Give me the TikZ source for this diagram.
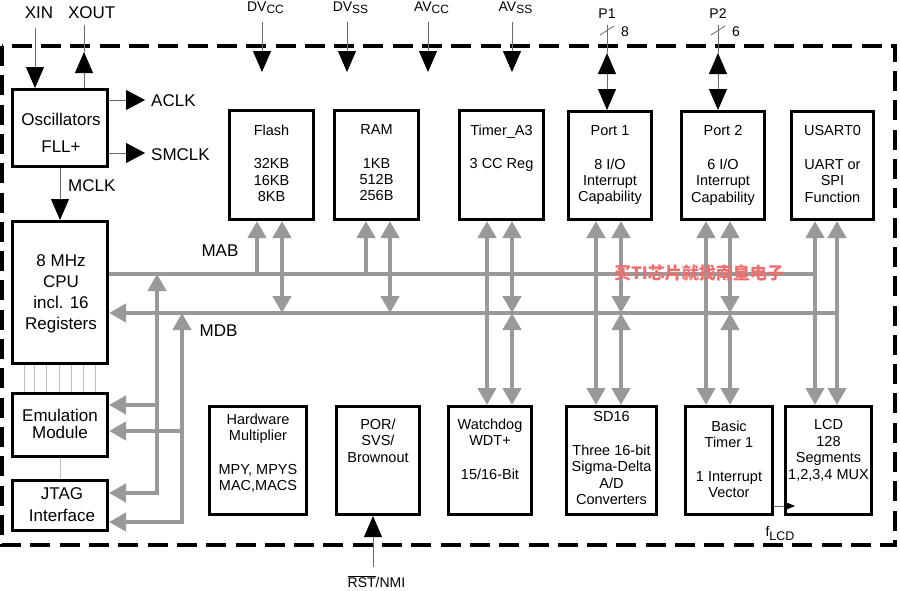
\documentclass[tikz,border=0pt]{standalone}
\usepackage{fontspec}
\setmainfont{Liberation Sans}
\newfontfamily\cjkfont{Noto Sans CJK SC}
\usetikzlibrary{arrows.meta}
\definecolor{busgray}{RGB}{153,153,153}
\definecolor{pingray}{RGB}{105,105,105}
\definecolor{linegray}{RGB}{190,190,190}
\definecolor{wmred}{RGB}{238,110,110}
\newcommand\mkbox[5]{\node[box,minimum width={#4-#2-3},minimum height={#5-#3-3}] (#1) at ({(#2+#4)/2},{(#3+#5)/2}) {};}
\begin{document}
\begin{tikzpicture}[x=1pt,y=-1pt,
  box/.style={draw=black,line width=3pt,inner sep=0pt,fill=white},
  mtxt/.style={inner sep=0pt,align=center,font=\fontsize{14.5}{16.4}\selectfont},
  btxt/.style={inner sep=0pt,align=center,font=\fontsize{17}{21}\selectfont},
  plab/.style={inner sep=0pt,font=\fontsize{17}{20}\selectfont},
  slab/.style={inner sep=0pt,font=\fontsize{14}{16}\selectfont},
  gbus/.style={draw=busgray,line width=4.5pt},
  pin/.style={draw=pingray,line width=0.8pt},
  cl/.style={draw=linegray,line width=0.8pt},
  border/.style={draw=black,line width=4pt,dash pattern=on 20pt off 9.3pt},
  GT/.tip={Triangle[width=18pt,length=17pt]},
  BT/.tip={Triangle[width=18pt,length=21pt,color=black]}]
\useasboundingbox (0,0) rectangle (900,590);
\draw[border] (2,46) rectangle (895,545);

% boxes
\mkbox{osc}{11}{88}{109}{168}
\mkbox{cpu}{11}{220}{109}{365}
\mkbox{emu}{11}{392}{109}{458}
\mkbox{jtag}{11}{479}{109}{532}
\mkbox{flash}{228}{109}{315}{221}
\mkbox{ram}{333}{109}{420}{221}
\mkbox{timer}{458}{109}{545}{221}
\mkbox{port1}{567}{110}{653}{221}
\mkbox{port2}{680}{110}{766}{221}
\mkbox{usart}{790}{110}{875}{221}
\mkbox{hwm}{208}{405}{308}{516}
\mkbox{por}{335}{405}{421}{516}
\mkbox{wdt}{447}{405}{533}{516}
\mkbox{sd}{565}{405}{658}{516}
\mkbox{bt}{684}{405}{774}{516}
\mkbox{lcd}{784}{405}{873}{516}

% box texts
\node[btxt,font=\fontsize{17}{27}\selectfont] (oscT) at (61,133) {Oscillators\\FLL+};
\node[btxt] (cpuT) at (61,293.5) {8 MHz\\CPU\\incl. 16\\Registers};
\node[btxt,font=\fontsize{17}{17.5}\selectfont] (emuT) at (60,424) {Emulation\\Module};
\node[btxt,font=\fontsize{17}{22}\selectfont] (jtagT) at (62,505) {JTAG\\Interface};
\node[mtxt,anchor=north] (flashT) at ([yshift=-15.5pt]flash.north) {Flash\\[17pt]32KB\\16KB\\8KB};
\node[mtxt,anchor=north] (ramT) at ([yshift=-15.5pt]ram.north) {RAM\\[17pt]1KB\\512B\\256B};
\node[mtxt,anchor=north] (timerT) at ([yshift=-15.5pt]timer.north) {Timer\_A3\\[17pt]3 CC Reg};
\node[mtxt,anchor=north] (port1T) at ([yshift=-15.5pt]port1.north) {Port 1\\[17pt]8 I/O\\Interrupt\\Capability};
\node[mtxt,anchor=north] (port2T) at ([yshift=-15.5pt]port2.north) {Port 2\\[17pt]6 I/O\\Interrupt\\Capability};
\node[mtxt,anchor=north] (usartT) at ([yshift=-15.5pt]usart.north) {USART0\\[17pt]UART or\\SPI\\Function};
\node[mtxt,anchor=north] (hwmT) at ([yshift=-8.5pt]hwm.north) {Hardware\\Multiplier\\[17pt]MPY, MPYS\\MAC,MACS};
\node[mtxt,anchor=north] (porT) at ([yshift=-13.5pt]por.north) {POR/\\SVS/\\Brownout};
\node[mtxt,anchor=north] (wdtT) at ([yshift=-13.5pt]wdt.north) {Watchdog\\WDT+\\[17pt]15/16-Bit};
\node[mtxt,anchor=north] (sdT) at ([yshift=-6.5pt]sd.north) {SD16\\[17pt]Three 16-bit\\Sigma-Delta\\A/D\\Converters};
\node[mtxt,anchor=north] (btT) at ([yshift=-15.5pt]bt.north) {Basic\\Timer 1\\[17pt]1 Interrupt\\Vector};
\node[mtxt,anchor=north] (lcdT) at ([yshift=-14.5pt]lcd.north) {LCD\\128\\Segments\\1,2,3,4 MUX};

% CPU to emulation thin lines
\foreach \dx in {13.5,23.5,35.5,48.5,60.5,72.5,84.5}
  \draw[cl] ([xshift=\dx pt]cpu.south west) -- ([xshift=\dx pt]emu.north west);
\draw[cl] (emu.south) -- (jtag.north);

% external pins
\node[plab] (xin) at (39,12.5) {XIN};
\node[plab] (xout) at (91.7,12.5) {XOUT};
\coordinate (xint) at (35,28);
\draw[pin,-BT] (xint) -- (xint |- osc.north);
\coordinate (xoutt) at (84,25);
\coordinate (xoutk) at (84,52);
\draw[pin] (xoutt) -- (xoutk);
\draw[pin,-BT] (xoutt |- osc.north) -- (xoutk);
\coordinate (aclk) at (145,100);
\coordinate (smclk) at (145,153);
\draw[pin,-{Triangle[width=20pt,length=19pt,color=black]}] (aclk -| osc.east) -- (aclk);
\draw[pin,-{Triangle[width=20pt,length=19pt,color=black]}] (smclk -| osc.east) -- (smclk);
\node[plab,anchor=west] (aclkL) at (151,100.5) {ACLK};
\node[plab,anchor=west] (smclkL) at (151,154.5) {SMCLK};
\draw[pin,-BT] (osc.south) -- (cpu.north);
\node[plab,anchor=west] (mclkL) at (68,186) {MCLK};

% supply pins
\foreach \nm/\xx/\lx/\t/\s in {dvcc/262/265.5/DV/CC, dvss/347/350.5/DV/SS, avcc/428/431.5/AV/CC, avss/512/515.5/AV/SS}{
  \node[slab] (\nm) at (\lx,7.5) {\t\raisebox{-1.5pt}{\fontsize{12}{12}\selectfont\s}};
  \coordinate (\nm t) at (\xx,22);
  \coordinate (\nm k) at (\xx,72);
  \draw[pin,-BT] (\nm t) -- (\nm k);
}

% ports P1 / P2
\node[slab] (p1L) at (607,13.5) {P1};
\node[slab] (p2L) at (718,13.5) {P2};
\node[slab] (p1n) at (625,31.5) {8};
\node[slab] (p2n) at (736,31.5) {6};
\coordinate (p1t) at (607,25);
\coordinate (p1k) at (607,53);
\coordinate (p2t) at (718,25);
\coordinate (p2k) at (718,53);
\draw[pin] (p1t) -- (p1k);
\draw[pin] (p2t) -- (p2k);
\draw[pin] ([shift={(-7,10)}]p1t) -- ([shift={(7,1)}]p1t);
\draw[pin] ([shift={(-7,10)}]p2t) -- ([shift={(7,1)}]p2t);
\draw[pin,BT-BT] (p1k) -- (p1k |- port1.north);
\draw[pin,BT-BT] (p2k) -- (p2k |- port2.north);

% reset
\coordinate (rstb) at (373,567);
\draw[pin,-BT] (rstb) -- (rstb |- por.south);
\node[slab] (rstL) at (376.5,582) {$\overline{\mbox{RST}}$/NMI};

% fLCD
\coordinate (fl) at (795,506);
\draw[pin,-{Triangle[width=9pt,length=11pt,color=black]}] (fl -| bt.east) -- (fl);
\node[slab] (flL) at (780,533) {f\raisebox{-4pt}{\fontsize{12.5}{12.5}\selectfont LCD}};

% buses
\coordinate (mabR) at (815,274);
\coordinate (mdbR) at (837,313);
\draw[gbus] (mabR -| cpu.east) -- (mabR);
\draw[gbus,-GT] (mdbR) -- (mdbR -| cpu.east);
\node[plab] (mab) at (220,251) {MAB};
\node[plab] (mdb) at (218.5,331) {MDB};

\coordinate (va) at (157,0);
\coordinate (vd) at (182,0);
\coordinate (e1) at (0,405);
\coordinate (e2) at (0,431);
\coordinate (j1) at (0,493);
\coordinate (j2) at (0,522);
\draw[gbus,GT-GT] (va |- mabR) -- (va |- j1) -- (j1 -| jtag.east);
\draw[gbus,-GT] (va |- e1) -- (e1 -| emu.east);
\draw[gbus,GT-GT] (vd |- mdbR) -- (vd |- j2) -- (j2 -| jtag.east);
\draw[gbus,-GT] (vd |- e2) -- (e2 -| emu.east);

\coordinate (fa) at (257,0);
\coordinate (fd) at (282,0);
\coordinate (ra) at (366,0);
\coordinate (rd) at (390,0);
\draw[gbus,-GT] (fa |- mabR) -- (fa |- flash.south);
\draw[gbus,GT-GT] (fd |- flash.south) -- (fd |- mdbR);
\draw[gbus,-GT] (ra |- mabR) -- (ra |- ram.south);
\draw[gbus,GT-GT] (rd |- ram.south) -- (rd |- mdbR);

\foreach \a/\d/\top/\bot in {487/512/timer/wdt, 596/621/port1/sd, 706/730/port2/bt}{
  \coordinate (ca) at (\a,0);
  \coordinate (cd) at (\d,0);
  \draw[gbus,GT-GT] (ca |- \top.south) -- (ca |- \bot.north);
  \draw[gbus,GT-GT] (cd |- \top.south) -- (cd |- mdbR);
  \draw[gbus,GT-GT] (cd |- mdbR) -- (cd |- \bot.north);
}
\coordinate (ua) at (815,0);
\coordinate (ud) at (837,0);
\draw[gbus,GT-GT] (ua |- usart.south) -- (ua |- lcd.north);
\draw[gbus,GT-GT] (ud |- usart.south) -- (ud |- lcd.north);

% watermark
\node[inner sep=0pt,text=wmred,font=\cjkfont\bfseries\fontsize{17}{17}\selectfont] (wm) at (699,273) {买TI芯片就找南皇电子};
\end{tikzpicture}
\end{document}
